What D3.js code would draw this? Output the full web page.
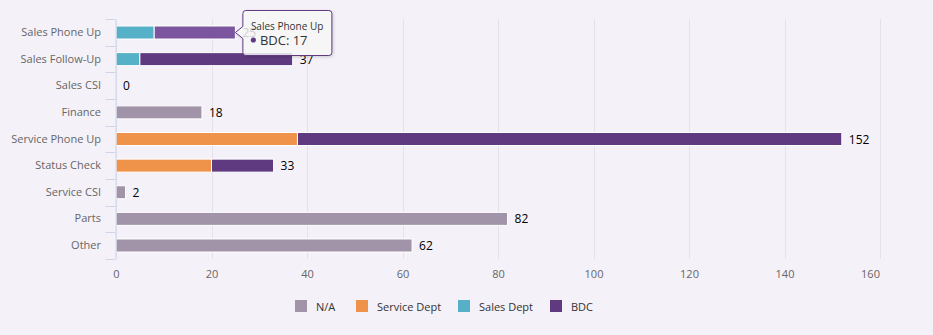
<!DOCTYPE html>
<meta charset="utf-8">
<style>
body { margin: 0; background: #f4f1f8; }
text { font-family: "Open Sans", sans-serif; }
</style>
<body>
<script src="https://d3js.org/d3.v7.min.js"></script>
<script>

// categories on the left axis
var categories = ["Sales Phone Up", "Sales Follow-Up", "Sales CSI", "Finance",
  "Service Phone Up", "Status Check", "Service CSI", "Parts", "Other"];

// one array per series, same order as categories
var seriesNames = ["N/A", "Service Dept", "Sales Dept", "BDC"];
var naValues      = [0, 0, 0, 18, 0, 0, 2, 82, 62];
var serviceValues = [0, 0, 0, 0, 38, 20, 0, 0, 0];
var salesValues   = [8, 5, 0, 0, 0, 0, 0, 0, 0];
var bdcValues     = [17, 32, 0, 0, 114, 13, 0, 0, 0];

var xTicks = [0, 20, 40, 60, 80, 100, 120, 140, 160];

// hovered point shown in the tooltip
var hoverSeries = "BDC", hoverCategory = "Sales Phone Up";

var colors = {"N/A": "#a194a8", "Service Dept": "#f0934a", "Sales Dept": "#56b0c8", "BDC": "#5f3a80"};
var hoverColor = "#7b559e";

var width = 933, height = 335;
var margin = {top: 19.2, right: 53, bottom: 76.2, left: 116};

var svg = d3.select("body")
  .append("svg")
    .attr("width", width)
    .attr("height", height);

svg.append("rect")
  .attr("width", width)
  .attr("height", height)
  .attr("fill", "#f4f1f8");

// build the table for d3.stack
var table = categories.map(function(c, i) {
  return {cat: c, "N/A": naValues[i], "Service Dept": serviceValues[i],
          "Sales Dept": salesValues[i], "BDC": bdcValues[i]};
});
var stacked = d3.stack().keys(seriesNames)(table);

var x = d3.scaleLinear()
  .domain([0, 160])
  .range([margin.left, width - margin.right]);

var y = d3.scaleBand()
  .domain(categories)
  .range([margin.top, height - margin.bottom]);

// vertical grid lines
svg.append("g")
  .selectAll("line")
  .data(xTicks)
  .enter()
  .append("line")
    .attr("x1", function(d) { return Math.round(x(d)) + 0.5 })
    .attr("x2", function(d) { return Math.round(x(d)) + 0.5 })
    .attr("y1", margin.top)
    .attr("y2", height - margin.bottom)
    .attr("stroke", "#e4e2e8")
    .attr("stroke-width", 1);

// bottom axis labels only, no line
var xAxis = svg.append("g")
  .attr("transform", "translate(0," + (height - margin.bottom) + ")")
  .call(d3.axisBottom(x).tickValues(xTicks).tickSize(0).tickPadding(11.5));
xAxis.select(".domain").remove();
xAxis.selectAll("text")
  .attr("fill", "#666")
  .style("font-size", "11px")
  .attr("dx", function(d) { return d === 160 ? -10 : 0 });

// bars
var barH = 13;
svg.append("g")
  .selectAll("g")
  .data(stacked)
  .enter()
  .append("g")
    .attr("data-key", function(d) { return d.key })
  .selectAll("rect")
  .data(function(d) { return d.map(function(p) { p.key = d.key; return p; }) })
  .enter()
  .filter(function(d) { return d[1] - d[0] > 0 })
  .append("rect")
    .attr("x", function(d) { return x(d[0]) })
    .attr("y", function(d) { return y(d.data.cat) + y.bandwidth() / 2 - barH / 2 })
    .attr("width", function(d) { return x(d[1]) - x(d[0]) })
    .attr("height", barH)
    .attr("fill", function(d) {
      if (d.key === hoverSeries && d.data.cat === hoverCategory) return hoverColor;
      return colors[d.key];
    })
    .attr("stroke", "#fff")
    .attr("stroke-width", 1);

// left category axis
var yAxis = svg.append("g")
  .attr("transform", "translate(" + (margin.left - 0.5) + ",0)")
  .call(d3.axisLeft(y).tickSize(0).tickPadding(14.5));
yAxis.select(".domain").attr("stroke", "#ccd6eb");
yAxis.selectAll("text")
  .attr("fill", "#666")
  .style("font-size", "11px");

// tick marks sit between categories
var bounds = categories.map(function(c) { return y(c) }).concat([height - margin.bottom]);
yAxis.selectAll(".bound")
  .data(bounds)
  .enter()
  .append("line")
    .attr("class", "bound")
    .attr("x1", -10)
    .attr("x2", 0)
    .attr("y1", function(d) { return Math.round(d) + 0.5 })
    .attr("y2", function(d) { return Math.round(d) + 0.5 })
    .attr("stroke", "#ccd6eb");

// totals at the end of each stack
svg.append("g")
  .selectAll("text")
  .data(table)
  .enter()
  .append("text")
    .attr("x", function(d) { return x(d3.sum(seriesNames, function(k) { return d[k] })) + 7 })
    .attr("y", function(d) { return y(d.cat) + y.bandwidth() / 2 + 4.5 })
    .text(function(d) { return d3.sum(seriesNames, function(k) { return d[k] }) })
    .attr("fill", "#000")
    .style("font-size", "12px");

// legend
var legendX = [295, 356, 458, 550];
var legend = svg.append("g")
  .selectAll("g")
  .data(seriesNames)
  .enter()
  .append("g")
    .attr("transform", function(d, i) { return "translate(" + legendX[i] + ",300)" });
legend.append("rect")
  .attr("width", 12)
  .attr("height", 12)
  .attr("fill", function(d) { return colors[d] });
legend.append("text")
  .attr("x", 21)
  .attr("y", 10.5)
  .text(function(d) { return d })
  .attr("fill", "#333")
  .style("font-size", "11px");

// tooltip for the hovered point
var hi = categories.indexOf(hoverCategory);
var hs = stacked[seriesNames.indexOf(hoverSeries)][hi];
var tipX = x(hs[1]), tipY = y(hoverCategory) + y.bandwidth() / 2;
var bx = tipX + 7.5, by = 10.5, bw = 89, bh = 45, r = 3;

var tip = svg.append("g");
tip.append("path")
  .attr("d", "M" + (bx + r) + "," + by +
    " H" + (bx + bw - r) + " Q" + (bx + bw) + "," + by + " " + (bx + bw) + "," + (by + r) +
    " V" + (by + bh - r) + " Q" + (bx + bw) + "," + (by + bh) + " " + (bx + bw - r) + "," + (by + bh) +
    " H" + (bx + r) + " Q" + bx + "," + (by + bh) + " " + bx + "," + (by + bh - r) +
    " V" + (tipY + 6) + " L" + tipX + "," + tipY + " L" + bx + "," + (tipY - 6) +
    " V" + (by + r) + " Q" + bx + "," + by + " " + (bx + r) + "," + by + " Z")
  .attr("fill", "rgba(255,255,255,0.8)")
  .attr("stroke", colors[hoverSeries])
  .attr("stroke-width", 1)
  .style("filter", "drop-shadow(1px 1px 1.5px rgba(0,0,0,0.18))");
tip.append("text")
  .attr("x", bx + 8)
  .attr("y", by + 19.5)
  .text(hoverCategory)
  .attr("fill", "#333")
  .style("font-size", "10px");
tip.append("circle")
  .attr("cx", bx + 10.5)
  .attr("cy", by + 29.5)
  .attr("r", 2.6)
  .attr("fill", colors[hoverSeries]);
tip.append("text")
  .attr("x", bx + 17)
  .attr("y", by + 34)
  .attr("fill", "#333")
  .style("font-size", "13px")
  .text(hoverSeries + ": " + hs.data[hoverSeries]);

</script>
</body>
